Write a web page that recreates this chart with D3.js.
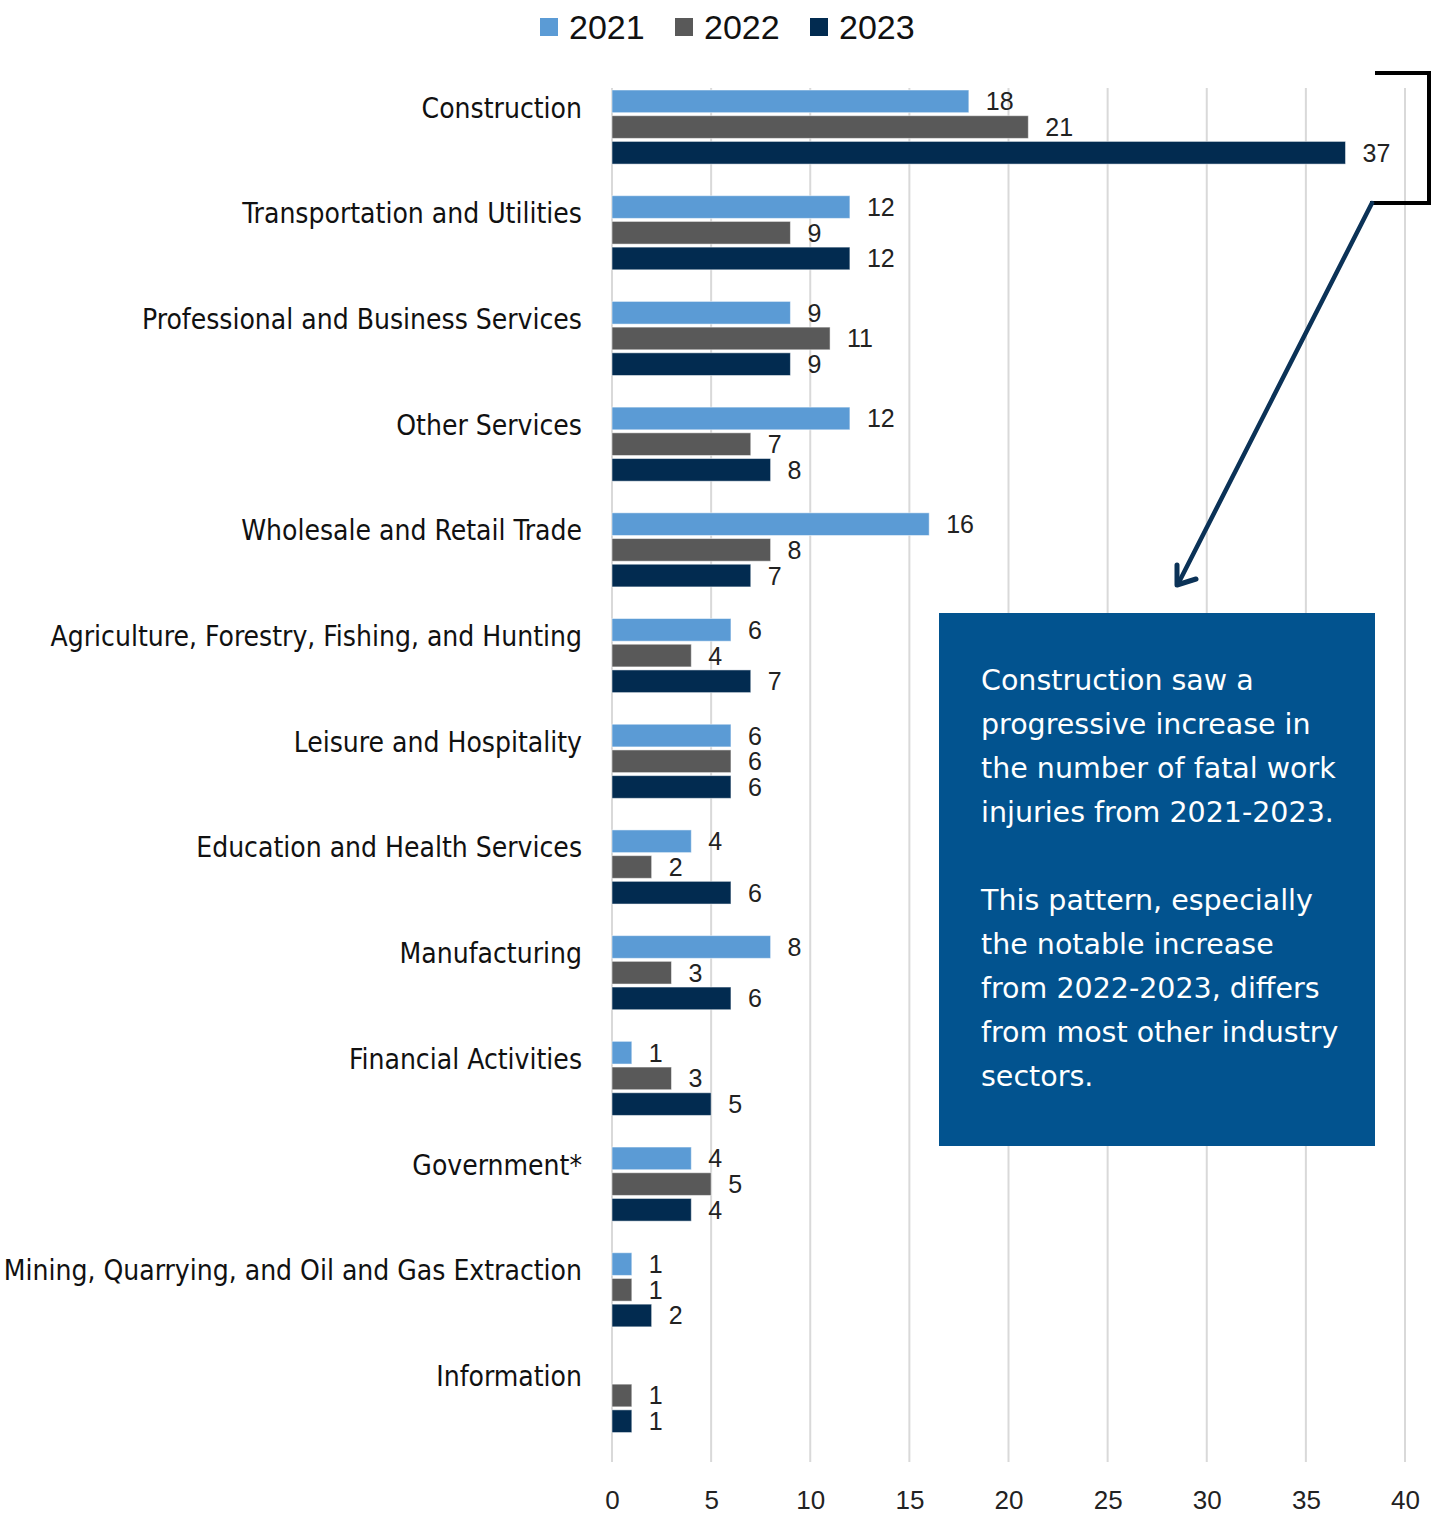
<!DOCTYPE html>
<html>
<head>
<meta charset="utf-8">
<script src="https://cdn.jsdelivr.net/npm/d3@7"></script>
<style>
  html, body { margin: 0; padding: 0; background: #fff; }
  svg { display: block; }
</style>
</head>
<body>
<svg id="chart" width="1443" height="1514"></svg>
<script>
// Fatal work injuries by industry sector, 2021–2023
const categories = [
  "Construction",
  "Transportation and Utilities",
  "Professional and Business Services",
  "Other Services",
  "Wholesale and Retail Trade",
  "Agriculture, Forestry, Fishing, and Hunting",
  "Leisure and Hospitality",
  "Education and Health Services",
  "Manufacturing",
  "Financial Activities",
  "Government*",
  "Mining, Quarrying, and Oil and Gas Extraction",
  "Information"
];
const years = ["2021", "2022", "2023"];
const values2021 = [18, 12, 9, 12, 16, 6, 6, 4, 8, 1, 4, 1, null];
const values2022 = [21, 9, 11, 7, 8, 4, 6, 2, 3, 3, 5, 1, 1];
const values2023 = [37, 12, 9, 8, 7, 7, 6, 6, 6, 5, 4, 2, 1];
const xTicks = [0, 5, 10, 15, 20, 25, 30, 35, 40];
const noteParagraphs = [
  ["Construction saw a", "progressive increase in", "the number of fatal work", "injuries from 2021-2023."],
  ["This pattern, especially", "the notable increase", "from 2022-2023, differs", "from most other industry", "sectors."]
];

const colors = { "2021": "#5b9bd5", "2022": "#595959", "2023": "#022b50" };
const seriesByYear = { "2021": values2021, "2022": values2022, "2023": values2023 };

const svg = d3.select("#chart");
const plot = { left: 612, right: 1405, top: 88, bottom: 1462 };

const x = d3.scaleLinear().domain([0, 40]).range([plot.left, plot.right]);
const y = d3.scaleBand().domain(categories).range([90, 1435.4]).paddingInner(0.272).paddingOuter(0);
const yInner = d3.scaleBand().domain(years).range([0, 74.1]).paddingInner(0.117).paddingOuter(0);

const labelFont = "'Liberation Sans Narrow', 'DejaVu Sans Condensed', 'Liberation Sans', Arial, sans-serif";
const numFont = "'Liberation Sans', Arial, sans-serif";

// Vertical gridlines, including the zero line
svg.append("g")
  .selectAll("line")
  .data(xTicks)
  .join("line")
  .attr("x1", d => x(d)).attr("x2", d => x(d))
  .attr("y1", plot.top).attr("y2", plot.bottom)
  .attr("stroke", "#d9d9d9")
  .attr("stroke-width", 2);

// Bottom axis labels (no domain line, no tick marks)
const xAxis = d3.axisBottom(x).tickValues(xTicks).tickSize(0).tickPadding(0);
const gx = svg.append("g").attr("transform", `translate(0, ${plot.bottom + 29})`).call(xAxis);
gx.select(".domain").remove();
gx.selectAll("text")
  .attr("font-family", numFont)
  .attr("font-size", 26)
  .attr("fill", "#222")
  .attr("dy", "0.71em");

// Category labels
svg.append("g")
  .selectAll("text")
  .data(categories)
  .join("text")
  .attr("x", 582)
  .attr("y", d => y(d) + 18)
  .attr("text-anchor", "end")
  .attr("dominant-baseline", "central")
  .attr("font-family", labelFont)
  .attr("font-size", 28)
  .attr("fill", "#111")
  .text(d => d);

// Bars and value labels
const groups = svg.append("g")
  .selectAll("g")
  .data(categories)
  .join("g")
  .attr("transform", d => `translate(0, ${y(d)})`);

const cells = groups.selectAll("g")
  .data((d, i) => years.map(yr => ({ year: yr, value: seriesByYear[yr][i] })).filter(c => c.value != null))
  .join("g");

cells.append("rect")
  .attr("x", x(0))
  .attr("y", d => yInner(d.year))
  .attr("width", d => x(d.value) - x(0))
  .attr("height", yInner.bandwidth())
  .attr("fill", d => colors[d.year])
  .attr("stroke", "#ffffff")
  .attr("stroke-opacity", 0.5)
  .attr("stroke-width", 1);

cells.append("text")
  .attr("x", d => x(d.value) + 17)
  .attr("y", d => yInner(d.year) + yInner.bandwidth() / 2)
  .attr("dominant-baseline", "central")
  .attr("font-family", numFont)
  .attr("font-size", 25)
  .attr("fill", "#222")
  .text(d => d.value);

// Legend
const legendX = [540, 675, 810];
const legend = svg.append("g")
  .selectAll("g")
  .data(years)
  .join("g")
  .attr("transform", (d, i) => `translate(${legendX[i]}, 0)`);
legend.append("rect")
  .attr("x", 0).attr("y", 18).attr("width", 18).attr("height", 18)
  .attr("fill", d => colors[d]);
legend.append("text")
  .attr("x", 29).attr("y", 27)
  .attr("dominant-baseline", "central")
  .attr("font-family", numFont)
  .attr("font-size", 34)
  .attr("fill", "#111")
  .text(d => d);

// Bracket around the Construction group
svg.append("path")
  .attr("d", "M1375,73 H1429 V203 H1370")
  .attr("fill", "none")
  .attr("stroke", "#000")
  .attr("stroke-width", 4);

// Arrow pointing down to the note
svg.append("path")
  .attr("d", "M1372,203 L1178,584")
  .attr("fill", "none")
  .attr("stroke", "#0b3257")
  .attr("stroke-width", 4.5)
  .attr("stroke-linecap", "round");
svg.append("path")
  .attr("d", "M1177,565 L1177,585 L1196,579")
  .attr("fill", "none")
  .attr("stroke", "#0b3257")
  .attr("stroke-width", 5)
  .attr("stroke-linecap", "round")
  .attr("stroke-linejoin", "round");

// Note box
svg.append("rect")
  .attr("x", 939).attr("y", 613).attr("width", 436).attr("height", 533)
  .attr("fill", "#02538f");

const noteLines = [];
noteParagraphs.forEach((p, pi) => {
  p.forEach(line => noteLines.push(line));
  if (pi < noteParagraphs.length - 1) noteLines.push("");
});
svg.append("g")
  .selectAll("text")
  .data(noteLines)
  .join("text")
  .attr("x", 981)
  .attr("y", (d, i) => 680 + i * 44)
  .attr("dominant-baseline", "central")
  .attr("font-family", "'DejaVu Sans', 'Open Sans', sans-serif")
  .attr("font-size", 28.5)
  .attr("fill", "#fff")
  .text(d => d);
</script>
</body>
</html>
